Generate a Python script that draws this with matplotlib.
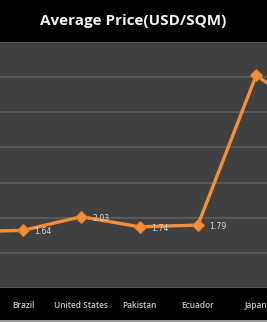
import matplotlib
matplotlib.use("Agg")
import matplotlib.pyplot as plt
from matplotlib.patches import Rectangle

# categories (first and last sit outside the visible crop)
countries = ["", "Brazil", "United States", "Pakistan", "Ecuador", "Japan", ""]
prices = [1.60, 1.64, 2.03, 1.74, 1.79, 6.05, 4.90]
labelled = [1, 2, 3, 4]   # points showing a data label
y_ticks = [0, 1, 2, 3, 4, 5, 6, 7]

ORANGE = "#F38E3A"
W, H = 267, 322

fig = plt.figure(figsize=(W / 100, H / 100), dpi=100, facecolor="black")
ax = fig.add_axes([0, (H - 288) / H, 1, (288 - 42) / H])
ax.set_facecolor("#404040")

x = list(range(len(countries)))
ax.plot(x, prices, color=ORANGE, lw=2.4, marker="D", ms=6,
        mfc=ORANGE, mec="#E07F2C", mew=0.8, zorder=3, clip_on=True)

for i in labelled:
    ax.annotate(f"{prices[i]:.2f}", (x[i], prices[i]), xytext=(8, -1),
                textcoords="offset points", fontsize=5.6, color="#d8d8d8",
                ha="left", va="center", zorder=4)

ax.set_xticks(x)
ax.set_xticklabels(countries, fontsize=6.0, color="#c8c8c8",
                   family="Open Sans", fontweight="semibold")
ax.tick_params(axis="x", length=0, pad=9)
ax.set_xlim(1 - 23 / 58.3, 1 + (W - 23) / 58.3)

ax.set_ylim(0, 7)
ax.set_yticks(y_ticks)
ax.yaxis.grid(True, color="#5e5e5e", lw=1.2)
ax.set_axisbelow(True)
ax.tick_params(axis="y", left=False, labelleft=False)
for s in ax.spines.values():
    s.set_visible(False)

fig.text(0.5, 1 - 21 / H, "Average Price(USD/SQM)", ha="center", va="center",
         fontsize=11, fontweight="bold", color="#f2f2f2", family="Open Sans")

# thin light strip at the very bottom edge
fig.patches.append(Rectangle((0, 0), 1, 2 / H, transform=fig.transFigure,
                             facecolor="#9a9a9a", edgecolor="none"))

fig.savefig("out.png", dpi=100, facecolor="black")
